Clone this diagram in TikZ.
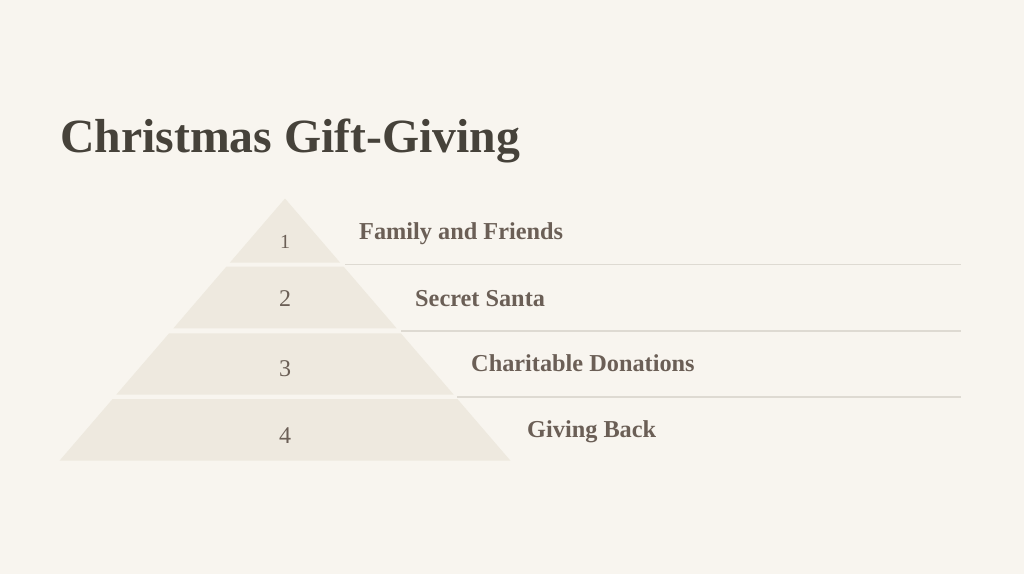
\documentclass[tikz,border=0pt]{standalone}
\usepackage{fontspec}
\setmainfont{Liberation Serif}
\definecolor{paper}{HTML}{F8F5EF}
\definecolor{stone}{HTML}{EEE9DF}
\definecolor{ink}{HTML}{46423A}
\definecolor{taupe}{HTML}{6B5F56}
\definecolor{rule}{HTML}{DEDAD2}
\tikzset{
  tier/.style={fill=stone},
  tiernum/.style={text=taupe, font=\fontsize{24}{26}\selectfont, inner sep=0pt},
  tierlabel/.style={text=taupe, font=\bfseries\fontsize{24.3}{26}\selectfont, anchor=base west, inner sep=0pt},
  sep/.style={draw=rule, line width=1.5pt}
}
\begin{document}
\begin{tikzpicture}[x=1pt,y=-1pt]
\useasboundingbox [fill=paper] (0,0) rectangle (1024,574);

\node [anchor=base west, inner sep=0pt, text=ink, font=\bfseries\fontsize{47.7}{50}\selectfont] (title) at (60,152.5) {Christmas Gift-Giving};

\fill [tier] (285,198.5) -- (340.2,262.7) -- (229.8,262.7) -- cycle;
\fill [tier] (226.3,266.7) -- (343.7,266.7) -- (396.6,328.3) -- (173.4,328.3) -- cycle;
\fill [tier] (169.1,333.3) -- (400.9,333.3) -- (453.6,394.5) -- (116.4,394.5) -- cycle;
\fill [tier] (112.6,399) -- (457.4,399) -- (510.5,460.7) -- (59.5,460.7) -- cycle;

\draw [sep] (345,264.6) -- (961,264.6);
\draw [sep] (401,330.8) -- (961,330.8);
\draw [sep] (457,397) -- (961,397);

\node [tiernum, font=\fontsize{20}{22}\selectfont] (num1) at (285,241.5) {1};
\node [tiernum] (num2) at (285,299) {2};
\node [tiernum] (num3) at (285,368.5) {3};
\node [tiernum] (num4) at (285,436) {4};

\node [tierlabel] (lvl1) at (359,239.3) {Family and Friends};
\node [tierlabel] (lvl2) at (415,306) {Secret Santa};
\node [tierlabel] (lvl3) at (471,371.7) {Charitable Donations};
\node [tierlabel] (lvl4) at (527,437.3) {Giving Back};
\end{tikzpicture}
\end{document}
